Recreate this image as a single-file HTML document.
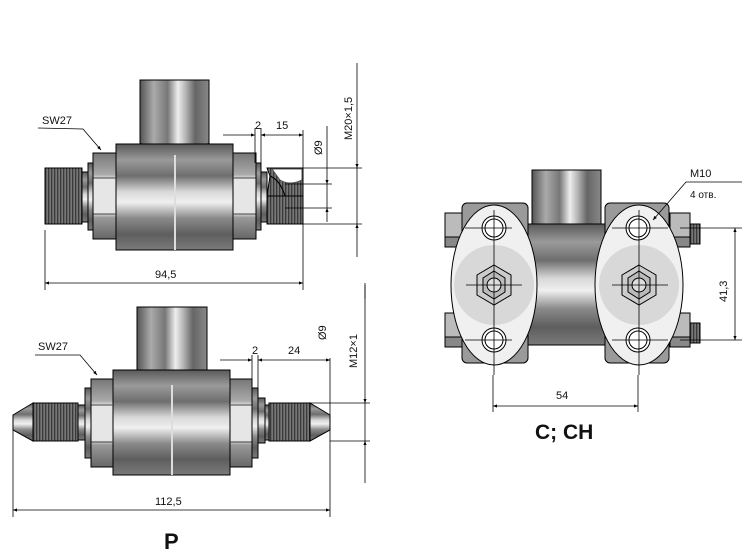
<!DOCTYPE html>
<html><head><meta charset="utf-8"><style>
html,body{margin:0;padding:0;background:#fff;width:750px;height:553px;overflow:hidden}
svg{display:block}
text{font-family:"Liberation Sans",sans-serif;fill:#111}
</style></head><body>
<svg width="750" height="553" viewBox="0 0 750 553" xmlns="http://www.w3.org/2000/svg">
<defs>
<linearGradient id="gv" x1="0" y1="0" x2="0" y2="1">
<stop offset="0" stop-color="#5a5a5a"/><stop offset=".15" stop-color="#9a9a9a"/><stop offset=".3" stop-color="#6e6e6e"/><stop offset=".45" stop-color="#d8d8d8"/><stop offset=".55" stop-color="#f0f0f0"/><stop offset=".7" stop-color="#8a8a8a"/><stop offset=".85" stop-color="#5e5e5e"/><stop offset="1" stop-color="#7a7a7a"/></linearGradient>
<linearGradient id="gh" x1="0" y1="0" x2="1" y2="0">
<stop offset="0" stop-color="#555"/><stop offset=".2" stop-color="#aaa"/><stop offset=".4" stop-color="#777"/><stop offset=".55" stop-color="#eee"/><stop offset=".65" stop-color="#bbb"/><stop offset=".8" stop-color="#666"/><stop offset="1" stop-color="#888"/></linearGradient>
<linearGradient id="nut" x1="0" y1="0" x2="0" y2="1">
<stop offset="0" stop-color="#777"/><stop offset=".25" stop-color="#aaa"/><stop offset=".3" stop-color="#e6e6e6"/><stop offset=".7" stop-color="#e6e6e6"/><stop offset=".75" stop-color="#999"/><stop offset="1" stop-color="#666"/></linearGradient>
<pattern id="thr" width="3" height="4" patternUnits="userSpaceOnUse"><rect width="3" height="4" fill="#777"/><rect width="1.3" height="4" fill="#3a3a3a"/></pattern>
<marker id="a" viewBox="0 0 10 10" refX="10" refY="5" markerWidth="7" markerHeight="5" orient="auto-start-reverse"><path d="M0,1L10,5L0,9z" fill="#000"/></marker>
</defs>
<g stroke="#000" stroke-width="1">
<!-- TOP FIGURE -->
<path d="M140,80H209V143Q175,165 140,143Z" fill="url(#gh)"/>
<rect x="116" y="144" width="117" height="106" fill="url(#gv)"/>
<line x1="175" y1="155" x2="175" y2="250" stroke="#ddd" stroke-width="2"/>
<rect x="93" y="153" width="23" height="86" fill="url(#nut)"/>
<rect x="233" y="153" width="23" height="86" fill="url(#nut)"/>
<path d="M93,178H116M93,214H116M233,178H256M233,214H256" stroke="#444"/>
<rect x="88" y="163" width="5" height="67" fill="url(#gv)"/>
<rect x="256" y="163" width="5" height="67" fill="url(#gv)"/>
<rect x="82" y="172" width="6" height="50" fill="url(#gv)"/>
<rect x="261" y="172" width="6" height="50" fill="url(#gv)"/>
<rect x="45" y="168" width="37" height="56" fill="url(#thr)"/>
<path d="M267,168H303V196H285Q280,180 270,176Z" fill="url(#thr)"/>
<path d="M270,176Q280,180 285,196H267Z" fill="url(#thr)"/>
<rect x="267" y="196" width="36" height="28" fill="url(#thr)"/>
<path d="M272,169L302,169L302,180Q290,186 280,180Z" fill="#fff" stroke="#555"/>
<g fill="none" stroke-width=".8">
<line x1="45" y1="230" x2="45" y2="290"/><line x1="303" y1="224" x2="303" y2="290"/>
<line x1="45" y1="283" x2="303" y2="283" marker-start="url(#a)" marker-end="url(#a)"/>
<line x1="223" y1="135" x2="255" y2="135" marker-end="url(#a)"/><line x1="261" y1="135" x2="303" y2="135" marker-start="url(#a)" marker-end="url(#a)"/>
<line x1="255" y1="128" x2="255" y2="163"/><line x1="261" y1="128" x2="261" y2="163"/><line x1="303" y1="130" x2="303" y2="168"/>
<line x1="285" y1="184" x2="332" y2="184"/><line x1="285" y1="208" x2="332" y2="208"/>
<line x1="327" y1="126" x2="327" y2="184" marker-end="url(#a)"/><line x1="327" y1="222" x2="327" y2="208" marker-end="url(#a)"/><line x1="327" y1="184" x2="327" y2="208"/>
<line x1="303" y1="168" x2="362" y2="168"/><line x1="303" y1="224" x2="362" y2="224"/>
<line x1="357" y1="63" x2="357" y2="168" marker-end="url(#a)"/><line x1="357" y1="257" x2="357" y2="224" marker-end="url(#a)"/><line x1="357" y1="168" x2="357" y2="224"/>
<line x1="365" y1="283" x2="365" y2="299"/>
<polyline points="38,128 83,129 101,150" marker-end="url(#a)"/>
</g>
<!-- BOTTOM FIGURE -->
<path d="M137,307H207V370Q172,392 137,370Z" fill="url(#gh)"/>
<rect x="113" y="370" width="117" height="105" fill="url(#gv)"/>
<line x1="172" y1="385" x2="172" y2="475" stroke="#ddd" stroke-width="2"/>
<rect x="91" y="379" width="22" height="88" fill="url(#nut)"/>
<rect x="230" y="379" width="22" height="88" fill="url(#nut)"/>
<path d="M91,405H113M91,442H113M230,405H252M230,442H252" stroke="#444"/>
<rect x="85" y="388" width="6" height="70" fill="url(#gv)"/>
<rect x="252" y="388" width="6" height="70" fill="url(#gv)"/>
<rect x="258" y="398" width="7" height="45" fill="url(#gv)"/>
<rect x="78" y="405" width="7" height="35" fill="url(#gv)"/>
<rect x="265" y="405" width="4" height="35" fill="url(#gv)"/>
<rect x="33" y="403" width="45" height="38" fill="url(#thr)"/>
<path d="M33,403L13,415V430L33,441Z" fill="url(#gv)"/>
<rect x="269" y="403" width="41" height="38" fill="url(#thr)"/>
<path d="M310,403L330,415V430L310,441Z" fill="url(#gv)"/>
<g fill="none" stroke-width=".8">
<line x1="13" y1="430" x2="13" y2="517"/><line x1="330" y1="358" x2="330" y2="517"/>
<line x1="13" y1="510" x2="330" y2="510" marker-start="url(#a)" marker-end="url(#a)"/>
<line x1="220" y1="360" x2="252" y2="360" marker-end="url(#a)"/><line x1="258" y1="360" x2="330" y2="360" marker-start="url(#a)" marker-end="url(#a)"/>
<line x1="252" y1="355" x2="252" y2="388"/><line x1="258" y1="355" x2="258" y2="398"/>
<line x1="310" y1="403" x2="370" y2="403"/><line x1="330" y1="441" x2="370" y2="441"/>
<line x1="365" y1="285" x2="365" y2="403" marker-end="url(#a)"/><line x1="365" y1="483" x2="365" y2="441" marker-end="url(#a)"/><line x1="365" y1="403" x2="365" y2="441"/>
<polyline points="35,355 80,355 97,375" marker-end="url(#a)"/>
</g>
<!-- RIGHT FIGURE -->
<rect x="532" y="170" width="69" height="55" fill="url(#gh)"/>
<rect x="520" y="224" width="92" height="121" fill="url(#gv)"/>
<rect x="445" y="213" width="18" height="34" fill="#bbb"/><rect x="445" y="313" width="18" height="34" fill="#bbb"/>
<rect x="445" y="237" width="18" height="10" fill="#888"/><rect x="445" y="337" width="18" height="10" fill="#888"/>
<rect x="670" y="213" width="20" height="34" fill="#bbb"/><rect x="670" y="313" width="20" height="34" fill="#bbb"/>
<rect x="670" y="237" width="20" height="10" fill="#888"/><rect x="670" y="337" width="20" height="10" fill="#888"/>
<rect x="690" y="224" width="10" height="20" fill="url(#thr)"/><rect x="690" y="323" width="10" height="20" fill="url(#thr)"/>
<rect x="462" y="203" width="66" height="160" rx="5" fill="#9a9a9a"/>
<rect x="605" y="203" width="64" height="160" rx="5" fill="#9a9a9a"/>
<ellipse cx="494" cy="285" rx="43" ry="80" fill="#f0f0f0"/>
<ellipse cx="639" cy="285" rx="44" ry="80" fill="#f0f0f0"/>
<circle cx="494" cy="285" r="40" fill="#d8d8d8" stroke="none"/>
<circle cx="639" cy="285" r="40" fill="#d8d8d8" stroke="none"/>
<g fill="#fff">
<circle cx="494" cy="228" r="12"/><circle cx="494" cy="228" r="9"/>
<circle cx="494" cy="340" r="12"/><circle cx="494" cy="340" r="9"/>
<circle cx="638" cy="228" r="12"/><circle cx="638" cy="228" r="9"/>
<circle cx="638" cy="340" r="12"/><circle cx="638" cy="340" r="9"/>
</g>
<polygon points="494,265 511,275 511,295 494,305 477,295 477,275" fill="#ccc"/>
<polygon points="494,271 505,278 505,292 494,299 483,292 483,278" fill="#bbb"/>
<circle cx="494" cy="285" r="7" fill="#ddd"/>
<polygon points="639,265 656,275 656,295 639,305 622,295 622,275" fill="#ccc"/>
<polygon points="639,271 650,278 650,292 639,299 628,292 628,278" fill="#bbb"/>
<circle cx="639" cy="285" r="7" fill="#ddd"/>
<g fill="none" stroke-width=".8">
<path d="M494,210V375M465,228H512M465,340H512M466,285H522"/>
<path d="M639,210V375M612,228H668M612,340H668M612,285H668"/>
<line x1="680" y1="228" x2="742" y2="228"/><line x1="680" y1="340" x2="742" y2="340"/>
<line x1="735" y1="228" x2="735" y2="340" marker-start="url(#a)" marker-end="url(#a)"/>
<line x1="493" y1="375" x2="493" y2="412"/><line x1="638" y1="375" x2="638" y2="412"/>
<line x1="493" y1="406" x2="638" y2="406" marker-start="url(#a)" marker-end="url(#a)"/>
<polyline points="742,182 686,182 653,220" marker-end="url(#a)"/>
</g>
</g>
<!-- TEXT -->
<g font-size="11">
<text x="42" y="124">SW27</text>
<text x="255" y="129">2</text><text x="276" y="129">15</text>
<text x="155" y="278">94,5</text>
<text transform="translate(322,155) rotate(-90)">Ø9</text>
<text transform="translate(352,140) rotate(-90)">M20×1,5</text>
<text x="38" y="350">SW27</text>
<text x="252" y="354">2</text><text x="288" y="354">24</text>
<text x="155" y="505">112,5</text>
<text transform="translate(326,340) rotate(-90)">Ø9</text>
<text transform="translate(357,368) rotate(-90)">M12×1</text>
<text x="556" y="399">54</text>
<text x="690" y="177">M10</text>
<text x="690" y="198" font-size="10">4 отв.</text>
<text transform="translate(727,302) rotate(-90)">41,3</text>
</g>
<text x="164" y="549" font-size="22" font-weight="bold">P</text>
<text x="535" y="439" font-size="21" font-weight="bold">C; CH</text>
</svg>
</body></html>
